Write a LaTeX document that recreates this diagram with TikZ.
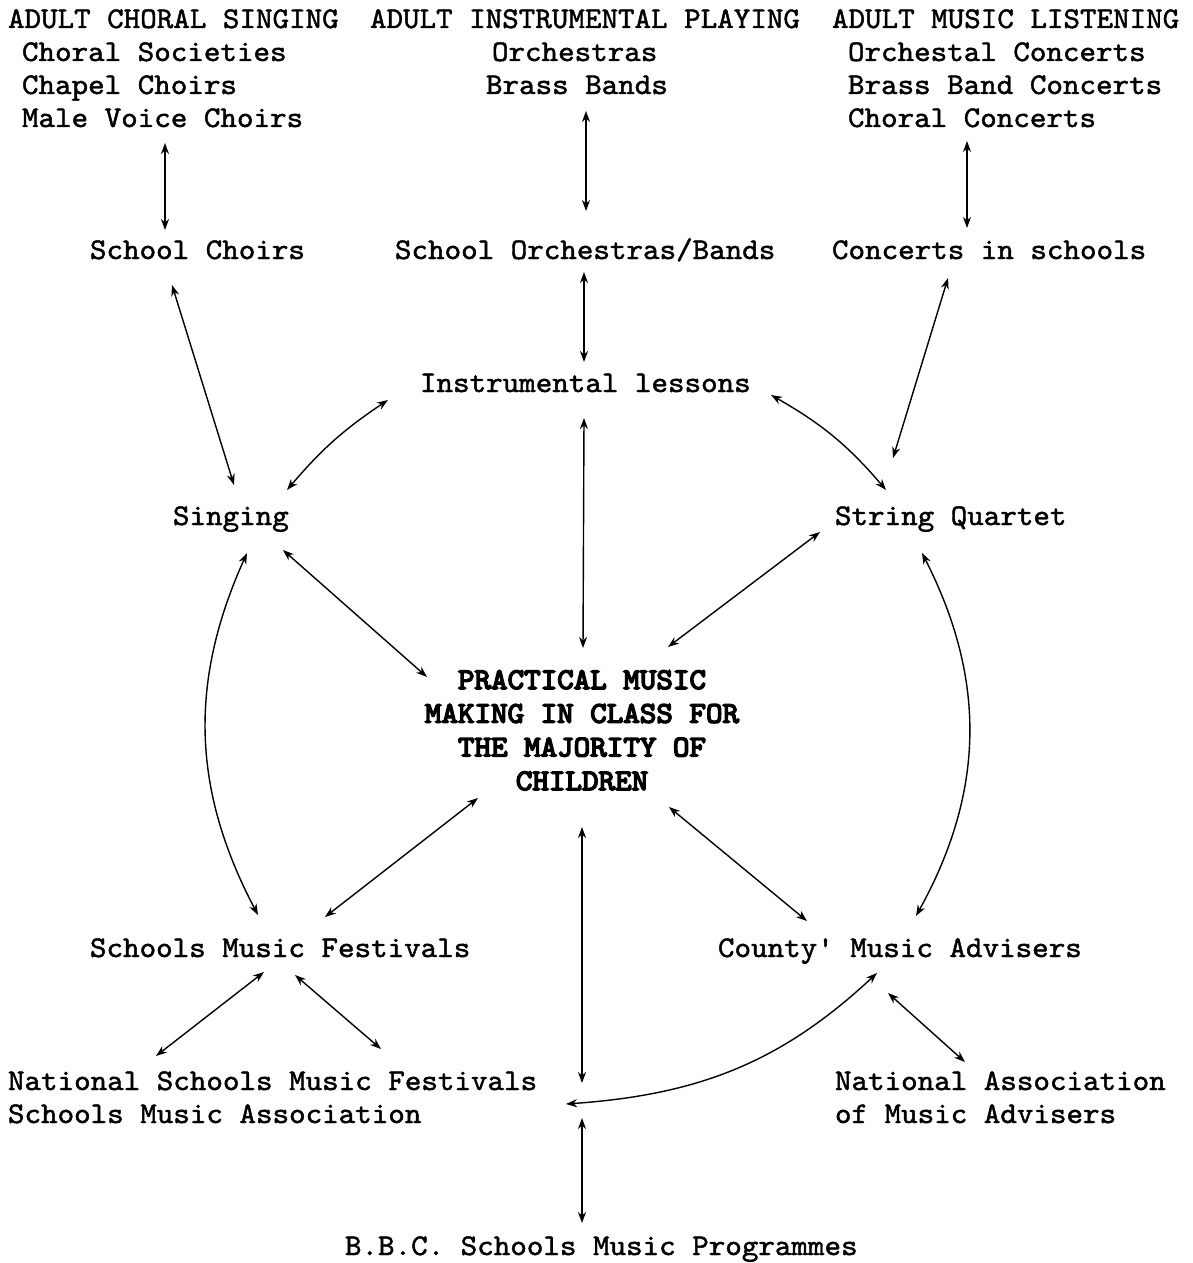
\documentclass[tikz,border=0pt]{standalone}
\usepackage{fontspec}
\setmonofont{lmmono10-regular.otf}[FakeBold=1.5,FakeStretch=1.05]
\newfontfamily\pmfont{lmmono10-regular.otf}[FakeBold=5,FakeStretch=1.05]
\usetikzlibrary{arrows.meta}
\begin{document}
\begin{tikzpicture}[x=1pt,y=1pt,
  lbl/.style={inner sep=0pt,outer sep=0pt,anchor=base west,font=\fontsize{30}{33}\selectfont\ttfamily},
  arr/.style={{Stealth[length=11pt,width=8pt,inset=3.5pt]}-{Stealth[length=11pt,width=8pt,inset=3.5pt]},line width=1.4pt,black}]
\useasboundingbox[fill=white] (0,0) rectangle (1192,-1263);
% nodes
\node[lbl] (acs) at (8,-28) {\begin{tabular}[t]{@{}l@{}}ADULT CHORAL SINGING\\\hspace*{14pt}Choral Societies\\\hspace*{14pt}Chapel Choirs\\\hspace*{14pt}Male Voice Choirs\end{tabular}};
\node[lbl] (aip) at (370,-28) {\begin{tabular}[t]{@{}l@{}}ADULT INSTRUMENTAL PLAYING\\\hspace*{122pt}Orchestras\\\hspace*{116pt}Brass Bands\end{tabular}};
\node[lbl] (aml) at (832,-28) {\begin{tabular}[t]{@{}l@{}}ADULT MUSIC LISTENING\\\hspace*{16pt}Orchestal Concerts\\\hspace*{16pt}Brass Band Concerts\\\hspace*{16pt}Choral Concerts\end{tabular}};
\node[lbl] (sch) at (90,-259) {School Choirs};
\node[lbl] (sob) at (395,-259) {School Orchestras/Bands};
\node[lbl] (cis) at (832,-259) {Concerts in schools};
\node[lbl] (il) at (420,-392) {Instrumental lessons};
\node[lbl] (sing) at (173,-525) {Singing};
\node[lbl] (sq) at (835,-525) {String Quartet};
\node[lbl,anchor=base,font=\fontsize{30}{33.7}\selectfont\pmfont] (pm) at (582,-689) {\begin{tabular}[t]{@{}c@{}}PRACTICAL MUSIC\\MAKING IN CLASS FOR\\THE MAJORITY OF\\CHILDREN\end{tabular}};
\node[lbl] (smf) at (90,-957) {Schools Music Festivals};
\node[lbl] (cma) at (718,-957) {County' Music Advisers};
\node[lbl] (nsmf) at (8,-1090) {\begin{tabular}[t]{@{}l@{}}National Schools Music Festivals\\Schools Music Association\end{tabular}};
\node[lbl] (nama) at (835,-1090) {\begin{tabular}[t]{@{}l@{}}National Association\\of Music Advisers\end{tabular}};
\node[lbl] (bbc) at (345,-1255) {B.B.C. Schools Music Programmes};
\coordinate (hub) at (583,-1100);
% connectors
\draw[arr] ([shift={(157,-115)}]acs.base west) -- ([shift={(75,29)}]sch.base west);
\draw[arr] ([shift={(216,-83)}]aip.base west) -- ([shift={(191,48)}]sob.base west);
\draw[arr] ([shift={(135,-113)}]aml.base west) -- ([shift={(135,31)}]cis.base west);
\draw[arr] ([shift={(189,-13)}]sob.base west) -- ([shift={(164,30)}]il.base west);
\draw[arr] ([shift={(82,-26)}]sch.base west) -- ([shift={(61,40)}]sing.base west);
\draw[arr] ([shift={(116,-19)}]cis.base west) -- ([shift={(58,67)}]sq.base west);
\draw[arr] ([shift={(114,35)}]sing.base west) to[bend left=8] ([shift={(-32,-8)}]il.base west);
\draw[arr] ([shift={(351,-3)}]il.base west) to[bend left=10] ([shift={(51,35)}]sq.base west);
\draw[arr] ([shift={(164,-26)}]il.base west) -- ([shift={(1,41)}]pm.base);
\draw[arr] ([shift={(110,-25)}]sing.base west) -- ([shift={(-155,12)}]pm.base);
\draw[arr] ([shift={(-15,-7)}]sq.base west) -- ([shift={(86,42)}]pm.base);
\draw[arr] ([shift={(74,-28)}]sing.base west) to[bend right=26] ([shift={(168,42)}]smf.base west);
\draw[arr] ([shift={(87,-28)}]sq.base west) to[bend left=28] ([shift={(198,41)}]cma.base west);
\draw[arr] ([shift={(-104,-109)}]pm.base) -- ([shift={(235,40)}]smf.base west);
\draw[arr] ([shift={(87,-118)}]pm.base) -- ([shift={(89,36)}]cma.base west);
\draw[arr] ([shift={(0,-138)}]pm.base) -- ([shift={(-1,17)}]hub);
\draw[arr] ([shift={(174,-15)}]smf.base west) -- ([shift={(148,34)}]nsmf.base west);
\draw[arr] ([shift={(205,-18)}]smf.base west) -- ([shift={(373,41)}]nsmf.base west);
\draw[arr] ([shift={(159,-16)}]cma.base west) to[out=-137,in=4] ([shift={(-17,-4)}]hub);
\draw[arr] ([shift={(170,-36)}]cma.base west) -- ([shift={(130,28)}]nama.base west);
\draw[arr] ([shift={(-1,-18)}]hub) -- ([shift={(237,32)}]bbc.base west);
\end{tikzpicture}
\end{document}
